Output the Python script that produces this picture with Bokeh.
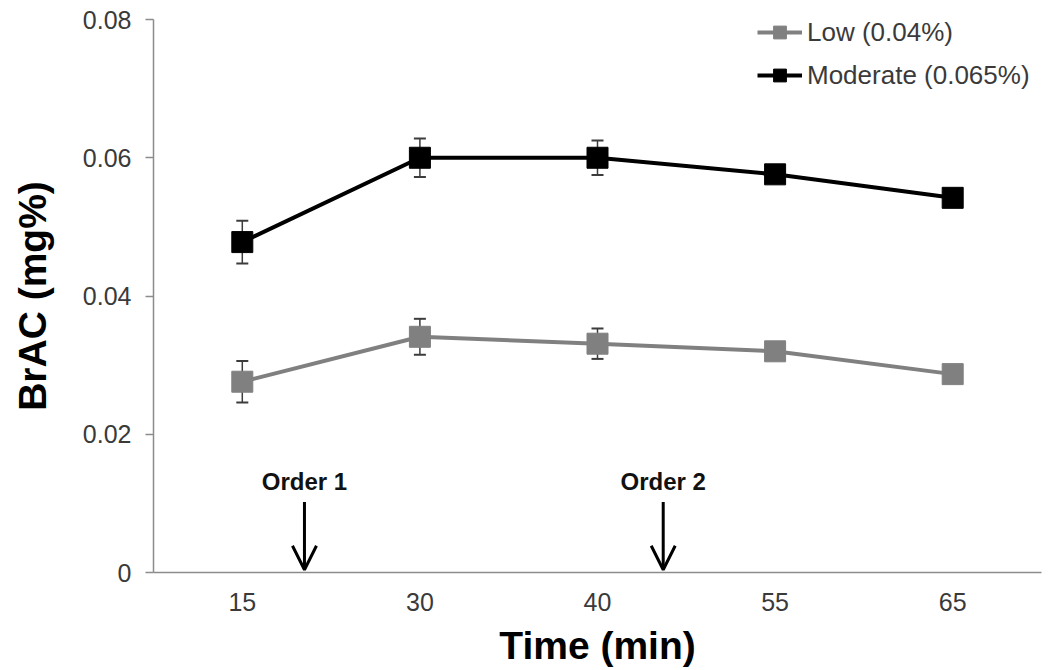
from bokeh.plotting import figure
from bokeh.models import (ColumnDataSource, Whisker, TeeHead, Arrow, OpenHead,
                          FixedTicker, Legend, LegendItem, Range1d)
from bokeh.core.properties import value
from bokeh.embed import file_html
from bokeh.resources import INLINE

# ---- data ----
time_labels = ["15", "30", "40", "55", "65"]
low_vals = [0.0276, 0.0341, 0.0331, 0.0320, 0.0287]
low_err = [0.0030, 0.0026, 0.0022, 0.0008, 0.0008]
mod_vals = [0.0478, 0.0600, 0.0600, 0.0576, 0.0542]
mod_err = [0.0031, 0.0028, 0.0025, 0.0009, 0.0009]
order_labels = ["Order 1", "Order 2"]
order_pos = [0.35, 2.37]          # position in category-index units
order_arrow_top = [0.0102, 0.0102]
order_arrow_tip = [0.0004, 0.0004]
order_text_y = [0.0132, 0.0132]
y_ticks = [0, 0.02, 0.04, 0.06, 0.08]
y_tick_labels = ["0", "0.02", "0.04", "0.06", "0.08"]

FONT = "Liberation Sans"
xs = list(range(len(time_labels)))

p = figure(width=1042, height=669, output_backend="svg", toolbar_location=None,
           x_range=Range1d(-0.5, 4.5), y_range=Range1d(0, 0.08),
           min_border_left=153, min_border_right=1, min_border_top=19,
           min_border_bottom=89)
p.outline_line_color = None
p.grid.visible = False

# axes
p.xaxis.ticker = FixedTicker(ticks=xs)
p.xaxis.major_label_overrides = {i: t for i, t in zip(xs, time_labels)}
p.yaxis.ticker = FixedTicker(ticks=y_ticks)
p.yaxis.major_label_overrides = {t: l for t, l in zip(y_ticks, y_tick_labels)}
for ax in (p.xaxis, p.yaxis):
    ax.axis_line_color = "#8c8c8c"
    ax.axis_line_width = 1.5
    ax.major_tick_line_color = "#8c8c8c"
    ax.major_tick_line_width = 1.5
    ax.minor_tick_line_color = None
    ax.major_label_text_font = FONT
    ax.major_label_text_font_size = "25px"
    ax.major_label_text_color = "#3a3a3a"
    ax.axis_label_text_font = FONT
    ax.axis_label_text_font_style = "bold"
    ax.axis_label_text_color = "#000000"
p.xaxis.major_tick_out = 0
p.xaxis.major_tick_in = 0
p.xaxis.major_tick_line_color = None
p.xaxis.major_label_standoff = 20
p.yaxis.major_tick_out = 8
p.yaxis.major_tick_in = 0
p.yaxis.major_label_standoff = 14
p.xaxis.axis_label = "Time (min)"
p.yaxis.axis_label = "BrAC (mg%)"
p.xaxis.axis_label_text_font_size = "39px"
p.yaxis.axis_label_text_font_size = "39px"
p.xaxis.axis_label_standoff = 10
p.yaxis.axis_label_standoff = 26

# sources
low_src = ColumnDataSource(dict(x=xs, y=low_vals,
                                lo=[v - e for v, e in zip(low_vals, low_err)],
                                hi=[v + e for v, e in zip(low_vals, low_err)]))
mod_src = ColumnDataSource(dict(x=xs, y=mod_vals,
                                lo=[v - e for v, e in zip(mod_vals, mod_err)],
                                hi=[v + e for v, e in zip(mod_vals, mod_err)]))

for src in (low_src, mod_src):
    w = Whisker(source=src, base="x", lower="lo", upper="hi", level="underlay",
                line_color="#3c3c3c", line_width=1.5,
                upper_head=TeeHead(size=12, line_color="#3c3c3c", line_width=2),
                lower_head=TeeHead(size=12, line_color="#3c3c3c", line_width=2))
    p.add_layout(w)

p.line("x", "y", source=low_src, line_color="#808080", line_width=4)
p.scatter("x", "y", source=low_src, marker="square", size=21,
          fill_color="#808080", line_color="#808080")
p.line("x", "y", source=mod_src, line_color="#000000", line_width=4)
p.scatter("x", "y", source=mod_src, marker="square", size=21,
          fill_color="#000000", line_color="#000000")

# order annotations
ord_src = ColumnDataSource(dict(x=order_pos, y0=order_arrow_top, y1=order_arrow_tip,
                                ty=order_text_y, t=order_labels))
p.add_layout(Arrow(source=ord_src, x_start="x", y_start="y0", x_end="x", y_end="y1",
                   line_color="#000000", line_width=3,
                   end=OpenHead(size=24, line_color="#000000", line_width=3)))
p.text("x", "ty", text="t", source=ord_src, text_font=value(FONT),
       text_font_style="bold", text_font_size="24px", text_color="#111111",
       text_align="center", text_baseline="alphabetic")

# legend (off-screen renderers with smaller markers)
off_x, off_y = [-10], [-10]
lg_low_l = p.line(off_x, off_y, line_color="#808080", line_width=4)
lg_low_m = p.scatter(off_x, off_y, marker="square", size=13, fill_color="#808080",
                     line_color="#808080")
lg_mod_l = p.line(off_x, off_y, line_color="#000000", line_width=4)
lg_mod_m = p.scatter(off_x, off_y, marker="square", size=13, fill_color="#000000",
                     line_color="#000000")
legend = Legend(items=[LegendItem(label="Low (0.04%)", renderers=[lg_low_l, lg_low_m]),
                       LegendItem(label="Moderate (0.065%)", renderers=[lg_mod_l, lg_mod_m])],
                location=(604, 481), orientation="vertical",
                glyph_width=45, glyph_height=32, label_height=32, spacing=11,
                label_standoff=5, padding=0, margin=0,
                border_line_color=None, background_fill_alpha=0,
                label_text_font=FONT, label_text_font_size="26px",
                label_text_color="#3a3a3a")
p.add_layout(legend)

open("out.html", "w").write(file_html(p, INLINE))
